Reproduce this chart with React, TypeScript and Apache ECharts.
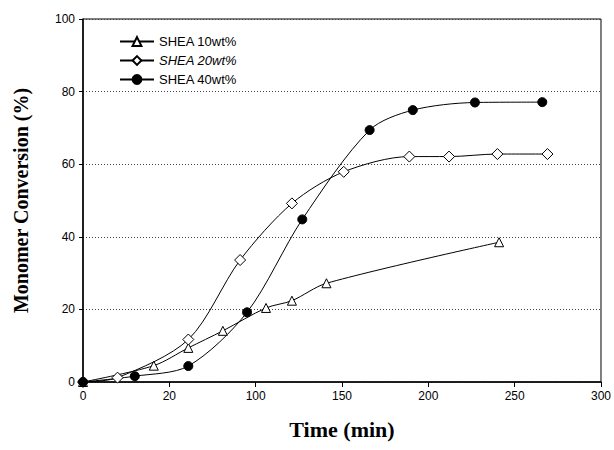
import React, { useEffect, useRef } from "react";
import * as echarts from "echarts";

const seriesNames = ["SHEA 10wt%", "SHEA 20wt%", "SHEA 40wt%"];

const shea10: [number, number][] = [
  [0, 0], [41, 4.5], [61, 9.4], [81, 14.1], [106, 20.4], [121, 22.4], [141, 27.2], [241, 38.5],
];
const shea20: [number, number][] = [
  [0, 0], [20, 1.2], [61, 11.7], [91, 33.6], [121, 49.2], [151, 57.9], [189, 62.1], [212, 62.1], [240, 62.8], [269, 62.8],
];
const shea40: [number, number][] = [
  [0, 0], [30, 1.6], [61, 4.4], [95, 19.2], [127, 44.8], [166, 69.4], [191, 74.9], [227, 77.0], [266, 77.1],
];

const xTickLabels = ["0", "20", "100", "150", "200", "250", "300"];
const yTickLabels = ["0", "20", "40", "60", "80", "100"];

export default function App() {
  const ref = useRef<HTMLDivElement>(null);
  useEffect(() => {
    if (!ref.current) return;
    const chart = echarts.init(ref.current, undefined, { renderer: "svg" });
    const lineStyle = { color: "#000", width: 1 };
    const mk = (name: string, data: [number, number][], symbol: string, size: number, filled: boolean) => ({
      name,
      type: "line",
      data,
      smooth: 0.3,
      symbol,
      symbolSize: size,
      showSymbol: true,
      lineStyle,
      itemStyle: { color: filled ? "#000" : "#fff", borderColor: "#000", borderWidth: 1 },
      z: 3,
    });
    chart.setOption({
      animation: false,
      backgroundColor: "#fff",
      textStyle: { fontFamily: "Liberation Sans" },
      grid: { left: 83, right: 12, top: 19, bottom: 68, show: true, borderColor: "#000", borderWidth: 1 },
      legend: {
        orient: "vertical",
        left: 114,
        top: 30,
        itemWidth: 34,
        itemHeight: 11,
        itemGap: 6,
        textStyle: { fontSize: 13, color: "#000", fontFamily: "Liberation Sans" },
        data: [
          { name: seriesNames[0] },
          { name: seriesNames[1], textStyle: { fontStyle: "italic" } },
          { name: seriesNames[2] },
        ],
      },
      xAxis: {
        type: "value",
        min: 0,
        max: 300,
        interval: 50,
        name: "Time (min)",
        nameLocation: "middle",
        nameGap: 36,
        nameTextStyle: { fontFamily: "Liberation Serif", fontWeight: "bold", fontSize: 22, color: "#000" },
        axisLine: { show: true, lineStyle: { color: "#000", width: 1.5 } },
        axisTick: { show: true, inside: false, length: 5, lineStyle: { color: "#000" } },
        axisLabel: {
          color: "#000",
          fontSize: 12,
          margin: 8,
          formatter: (v: number) => xTickLabels[Math.round(v / 50)] ?? "",
        },
        splitLine: { show: false },
      },
      yAxis: {
        type: "value",
        min: 0,
        max: 100,
        interval: 20,
        name: "Monomer Conversion (%)",
        nameLocation: "middle",
        nameGap: 52,
        nameTextStyle: { fontFamily: "Liberation Serif", fontWeight: "bold", fontSize: 20, color: "#000" },
        axisLine: { show: true, lineStyle: { color: "#000", width: 1.5 } },
        axisTick: { show: true, inside: false, length: 4, lineStyle: { color: "#000" } },
        axisLabel: {
          color: "#000",
          fontSize: 12,
          margin: 8,
          formatter: (v: number) => yTickLabels[Math.round(v / 20)] ?? "",
        },
        splitLine: { show: true, lineStyle: { color: "#444", type: [1, 2], width: 1 } },
      },
      series: [
        mk(seriesNames[0], shea10, "triangle", 9, false),
        mk(seriesNames[1], shea20, "diamond", 11, false),
        mk(seriesNames[2], shea40, "circle", 9, true),
      ],
    });
    return () => chart.dispose();
  }, []);
  return (
    <div
      ref={ref}
      style={{ position: "fixed", left: 0, top: 0, width: 614, height: 450 }}
    />
  );
}
